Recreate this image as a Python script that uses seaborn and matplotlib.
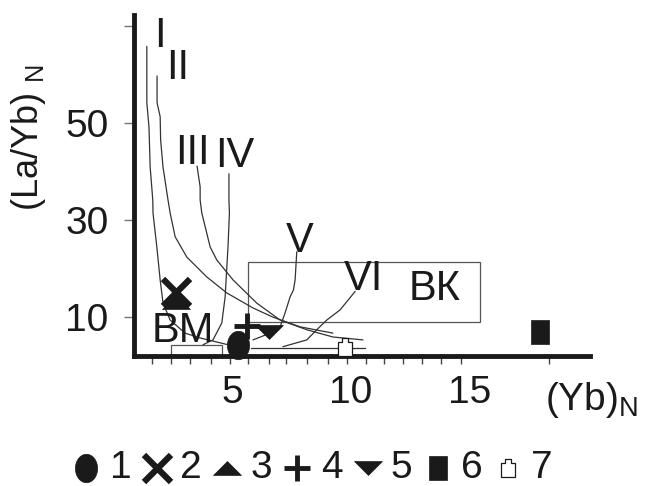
"""(La/Yb)N vs (Yb)N discrimination plot with mixing curves"""

import numpy as np
import matplotlib
matplotlib.use("Agg")
import matplotlib.pyplot as plt
from matplotlib.patches import Rectangle
import pandas as pd
import seaborn as sns

# mixing curves I-VI, (Yb)N and (La/Yb)N
CURVE_I_X = [1.42, 1.42, 1.51, 1.56, 1.67, 1.68, 1.84, 1.98, 2.10, 2.40, 3.03, 3.66, 4.50, 4.83]
CURVE_I_Y = [65.8, 54.2, 49.2, 40.9, 34.1, 31.4, 24.4, 17.6, 12.8, 9.3, 6.6, 5.6, 4.6, 4.2]
CURVE_II_X = [1.85, 1.85, 1.98, 2.00, 2.10, 2.31, 2.40, 2.61, 3.10, 3.94, 4.78, 5.88, 6.72, 7.86, 9.24]
CURVE_II_Y = [59.7, 54.2, 51.3, 46.5, 40.9, 34.1, 31.4, 26.5, 22.3, 18.2, 14.9, 11.8, 9.9, 7.9, 6.6]
CURVE_III_X = [3.53, 3.66, 3.66, 3.73, 4.08, 4.36, 5.04, 6.04, 7.02, 8.14, 9.24, 10.50]
CURVE_III_Y = [41.1, 36.8, 34.1, 31.4, 24.4, 21.7, 17.6, 12.8, 9.3, 7.3, 5.8, 5.2]
CURVE_IV_X = [4.87, 4.87, 4.89, 4.83, 4.71, 4.57, 4.20, 3.78]
CURVE_IV_Y = [39.5, 34.1, 31.4, 24.4, 14.1, 8.7, 5.2, 4.2]
CURVE_V_X = [7.72, 7.65, 7.58, 7.44, 7.23, 7.02, 6.60, 5.88]
CURVE_V_Y = [23.4, 17.6, 15.5, 14.1, 10.8, 7.9, 6.6, 5.2]
CURVE_VI_X = [10.17, 9.54, 8.98, 8.56, 8.14, 7.14]
CURVE_VI_Y = [15.2, 11.4, 9.3, 7.3, 5.2, 3.8]
BASE_LINE_X = [5.8, 10.6]
BASE_LINE_Y = [3.5, 3.5]

CURVE_NAMES = ["I", "II", "III", "IV", "V", "VI"]
CURVE_NAME_X = [1.97, 2.71, 3.34, 5.13, 7.86, 10.5]
CURVE_NAME_Y = [65.7, 59.1, 41.6, 40.9, 23.4, 15.5]

# fields: x0, y0, x1, y1
BK_BOX = [5.65, 9.0, 15.4, 21.2]
BM_BOX = [2.42, 1.98, 4.57, 4.1]

# sample groups 1-7
GROUPS = ["1", "2", "3", "4", "5", "6", "7"]
GROUP_X = [5.25, 2.65, 2.65, 5.63, 6.55, 17.94, 9.75]
GROUP_Y = [4.2, 15.1, 13.0, 8.1, 6.8, 6.84, 3.7]

Y_TICKS = [10, 30, 50, 70]
Y_TICK_LABELS = ["10", "30", "50", ""]
X_TICKS = [5, 10, 15]
X_MINOR = [1.64, 2.44, 3.24, 4.12, 4.92, 5.67, 6.55, 7.27, 8.15, 9.03,
           9.83, 10.63, 11.39, 12.18, 12.98, 13.78, 14.62, 18.32]

INK = "#1a1a1a"

sns.set_style("white")
plt.rcParams["font.family"] = ["Liberation Sans", "DejaVu Sans"]
plt.rcParams["mathtext.fontset"] = "custom"
plt.rcParams["mathtext.rm"] = "Liberation Sans"
plt.rcParams["mathtext.it"] = "Liberation Sans"

fig = plt.figure(figsize=(6.46, 4.86), dpi=100)
ax = fig.add_axes([133.5 / 646, 1 - 355.5 / 486, (590 - 133.5) / 646, (355.5 - 15) / 486])
ax.set_xlim(0.86, 20.04)
ax.set_ylim(1.98, 72.3)

curves = [(CURVE_I_X, CURVE_I_Y), (CURVE_II_X, CURVE_II_Y), (CURVE_III_X, CURVE_III_Y),
          (CURVE_IV_X, CURVE_IV_Y), (CURVE_V_X, CURVE_V_Y), (CURVE_VI_X, CURVE_VI_Y),
          (BASE_LINE_X, BASE_LINE_Y)]
for cx, cy in curves:
    sns.lineplot(x=cx, y=cy, sort=False, estimator=None, ax=ax, color="#333333", lw=0.9)

for box in (BK_BOX, BM_BOX):
    ax.add_patch(Rectangle((box[0], box[1]), box[2] - box[0], box[3] - box[1],
                           fill=False, edgecolor="#555555", lw=0.9, clip_on=False))

for name, tx, ty in zip(CURVE_NAMES, CURVE_NAME_X, CURVE_NAME_Y):
    ax.text(tx, ty, name, ha="center", va="baseline", fontsize=30, color=INK)
ax.text(2.92, 4.83, "ВМ", ha="center", va="baseline", fontsize=30, color=INK)
ax.text(13.53, 13.45, "ВК", ha="center", va="baseline", fontsize=30, color=INK)

# marker shapes
t = np.linspace(0, 2 * np.pi, 40)
oval = np.column_stack([0.78 * np.cos(t), np.sin(t)])
tri_up = [(-1, -0.5), (1, -0.5), (0, 0.5), (-1, -0.5)]
tri_down = [(-1, 0.5), (1, 0.5), (0, -0.5), (-1, 0.5)]
tall_square = [(-0.74, -1), (0.74, -1), (0.74, 1), (-0.74, 1), (-0.74, -1)]
bag = [(-0.8, -1), (0.8, -1), (0.8, 0.6), (0.4, 0.6), (0.4, 1), (-0.4, 1), (-0.4, 0.6), (-0.8, 0.6), (-0.8, -1)]

styles = {
    "1": dict(marker=oval, s=420, color=INK, edgecolor=INK, linewidth=0.5),
    "2": dict(marker="x", s=380, color=INK, linewidth=4.5),
    "3": dict(marker=tri_up, s=400, color=INK, edgecolor=INK, linewidth=0.5),
    "4": dict(marker="+", s=330, color=INK, linewidth=3.5),
    "5": dict(marker=tri_down, s=400, color=INK, edgecolor=INK, linewidth=0.5),
    "6": dict(marker=tall_square, s=290, color=INK, edgecolor=INK, linewidth=0.5),
    "7": dict(marker=bag, s=150, color="white", edgecolor=INK, linewidth=0.9),
}
points = pd.DataFrame({"group": GROUPS, "x": GROUP_X, "y": GROUP_Y})
for g in GROUPS:
    sub = points[points["group"] == g]
    sns.scatterplot(data=sub, x="x", y="y", ax=ax, label=g, clip_on=False, zorder=5, **styles[g])

handles, labels = ax.get_legend_handles_labels()
if ax.get_legend() is not None:
    ax.get_legend().remove()

sns.despine(ax=ax)
for side in ("left", "bottom"):
    ax.spines[side].set_linewidth(3.5)
    ax.spines[side].set_color(INK)

ax.set_yticks(Y_TICKS)
ax.set_yticklabels(Y_TICK_LABELS)
ax.tick_params(axis="y", direction="out", length=7, width=1, color="#777777",
               labelsize=28, pad=11, labelcolor=INK, left=True)
ax.set_xticks(X_TICKS)
ax.set_xticklabels([str(v) for v in X_TICKS])
ax.set_xticks(X_MINOR, minor=True)
ax.tick_params(axis="x", which="major", length=0, labelsize=28, pad=14, labelcolor=INK, bottom=True)
ax.tick_params(axis="x", which="minor", direction="out", length=6, width=1, color="#444444", bottom=True)
ax.set_xlabel("")
ax.set_ylabel("")

fig.text(29 / 646, 1 - 137 / 486, r"(La/Yb) $_\mathrm{N}$", rotation=90, ha="center", va="center",
         fontsize=26, color=INK)
fig.text(592 / 646, 1 - 400 / 486, r"(Yb)$_\mathrm{N}$", ha="center", va="center",
         fontsize=28, color=INK)

fig.legend(handles, labels, ncol=7, loc="center", bbox_to_anchor=(312 / 646, 1 - 468 / 486),
           frameon=False, fontsize=28, handletextpad=0.2, columnspacing=0.25,
           handlelength=0.8, borderpad=0, borderaxespad=0, labelcolor=INK)

fig.savefig("out.png", dpi=100)
